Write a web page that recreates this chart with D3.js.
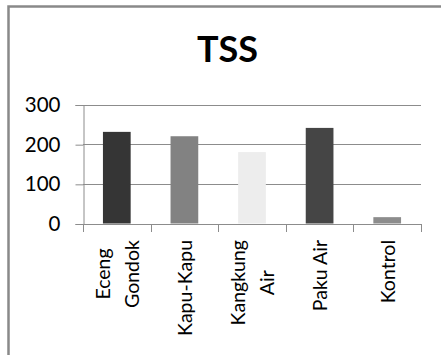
<!DOCTYPE html>
<html>
<head>
<meta charset="utf-8">
<script src="https://cdn.jsdelivr.net/npm/d3@7"></script>
<style>
  html, body { margin: 0; padding: 0; background: #fff; }
  svg { display: block; }
  text { font-family: Lato, "Open Sans", sans-serif; fill: #000; }
</style>
</head>
<body>
<svg id="chart" width="441" height="355"></svg>
<script>
const title = "TSS";
const categories = ["Eceng Gondok", "Kapu-Kapu", "Kangkung Air", "Paku Air", "Kontrol"];
const labelLines = [["Eceng", "Gondok"], ["Kapu-Kapu"], ["Kangkung", "Air"], ["Paku Air"], ["Kontrol"]];
const values = [231, 220, 180, 241, 16];
const barColors = ["#353535", "#828282", "#ededed", "#454545", "#8c8c8c"];
const yTicks = [0, 100, 200, 300];

const svg = d3.select("#chart");
const W = 441, H = 355;
const plot = { left: 83, right: 421, top: 104.5, bottom: 223.5 };

svg.append("rect").attr("width", W).attr("height", H).attr("fill", "#fff");
// outer chart frame (cropped on right/bottom)
svg.append("rect")
  .attr("x", 8.5).attr("y", 6.5).attr("width", 480).attr("height", 400)
  .attr("fill", "none").attr("stroke", "#898989").attr("stroke-width", 2.5);

// title
svg.append("text")
  .attr("x", 227.5).attr("y", 62)
  .attr("text-anchor", "middle")
  .attr("font-size", 36).attr("font-weight", "bold")
  .text(title);

const x = d3.scaleBand().domain(categories)
  .range([plot.left, plot.right]).paddingInner(0.59).paddingOuter(0.295);
const y = d3.scaleLinear().domain([0, 300]).range([plot.bottom, plot.top]);

// gridlines
svg.append("g").selectAll("line").data(yTicks.filter(d => d > 0)).join("line")
  .attr("x1", plot.left).attr("x2", plot.right)
  .attr("y1", d => Math.round(y(d)) + 0.5).attr("y2", d => Math.round(y(d)) + 0.5)
  .attr("stroke", "#8c8c8c").attr("stroke-width", 1);

// y axis
const yAxis = d3.axisLeft(y).tickValues(yTicks).tickSize(8).tickPadding(15);
const yg = svg.append("g").attr("transform", `translate(${plot.left + 0.5},0.5)`).call(yAxis);
yg.select(".domain").attr("stroke", "#8c8c8c");
yg.selectAll(".tick line").attr("stroke", "#8c8c8c");
yg.selectAll(".tick text").attr("font-size", 20.5).attr("font-family", "Lato, sans-serif").attr("fill", "#000");

// bars
svg.append("g").selectAll("rect").data(values).join("rect")
  .attr("x", (d, i) => x(categories[i]))
  .attr("width", x.bandwidth())
  .attr("y", d => y(d))
  .attr("height", d => y(0) - y(d))
  .attr("fill", (d, i) => barColors[i]);

// x axis
const step = x.step();
const xg = svg.append("g");
xg.append("line")
  .attr("x1", plot.left).attr("x2", plot.right)
  .attr("y1", Math.round(y(0)) + 0.5).attr("y2", Math.round(y(0)) + 0.5)
  .attr("stroke", "#8c8c8c");
const bounds = d3.range(categories.length + 1).map(i => plot.left + i * step);
xg.selectAll("line.tick").data(bounds).join("line").attr("class", "tick")
  .attr("x1", d => Math.round(d) + 0.5).attr("x2", d => Math.round(d) + 0.5)
  .attr("y1", Math.round(y(0))).attr("y2", Math.round(y(0)) + 8)
  .attr("stroke", "#8c8c8c");

// category labels (rotated)
const labelTop = 240;
const fs = 19.5, lineGap = 29;
labelLines.forEach((lines, i) => {
  const cx = x(categories[i]) + x.bandwidth() / 2;
  const g = svg.append("g");
  const texts = lines.map((ln, j) => {
    const off = (j - (lines.length - 1) / 2) * lineGap;
    return g.append("text")
      .attr("font-size", fs)
      .attr("dominant-baseline", "central")
      .attr("text-anchor", "middle")
      .attr("data-off", off)
      .text(ln);
  });
  const maxLen = d3.max(texts, t => t.node().getComputedTextLength());
  const cy = labelTop + maxLen / 2;
  texts.forEach(t => {
    const off = +t.attr("data-off");
    t.attr("transform", `translate(${cx + off},${cy}) rotate(-90)`);
  });
});
</script>
</body>
</html>
